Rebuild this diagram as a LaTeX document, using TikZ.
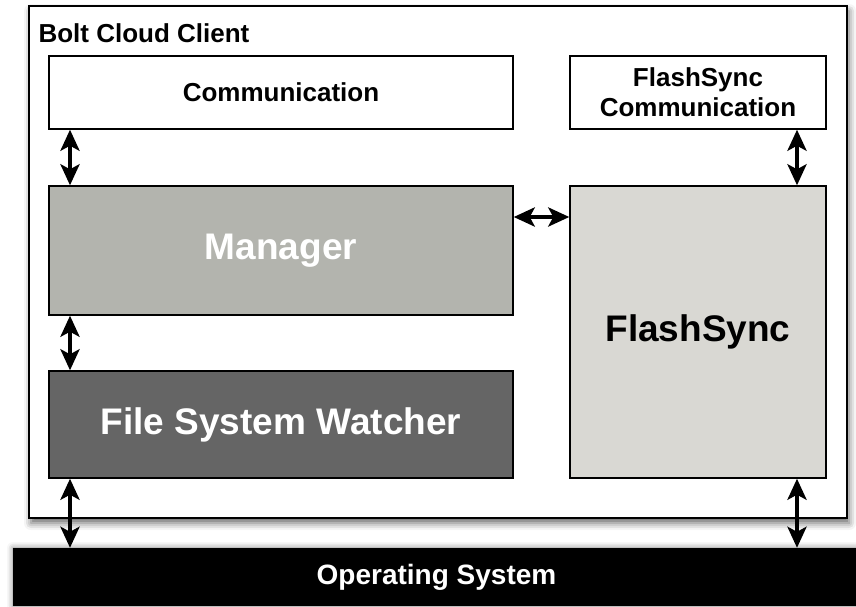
\documentclass[tikz,border=0pt]{standalone}
\usepackage{fontspec}
\setmainfont{Liberation Sans}
\usetikzlibrary{arrows.meta,shadows.blur}
\definecolor{mgrfill}{HTML}{B3B4AE}
\definecolor{fsfill}{HTML}{D9D8D3}
\definecolor{fswfill}{HTML}{656565}
\tikzset{
  box/.style={draw=black, line width=1.4pt, rectangle, inner sep=0pt, align=center},
  small/.style={font=\bfseries\fontsize{26}{30}\selectfont},
  large/.style={font=\bfseries\fontsize{37}{42}\selectfont},
  dbl/.style={draw=black, line width=4pt,
    arrows={Stealth[length=21pt, width=19pt, inset=5pt]-Stealth[length=21pt, width=19pt, inset=5pt]}}
}
\begin{document}
\begin{tikzpicture}[x=1pt,y=-1pt]
\useasboundingbox (0,0) rectangle (856,606);
\clip (0,0) rectangle (856,606);

% client frame with its drop shadow
\node[box, fill=white, minimum width=818pt, minimum height=512pt,
  blur shadow={shadow xshift=2pt, shadow yshift=-5pt, shadow blur radius=7pt, shadow opacity=60}]
  (client) at (438,262) {};
\node[anchor=base west, small] (title) at (35,42) {Bolt Cloud Client};

% operating system bar
\node[rectangle, fill=black, inner sep=0pt, minimum width=847pt, minimum height=58pt,
  blur shadow={shadow xshift=0pt, shadow yshift=0pt, shadow blur radius=6pt, shadow opacity=50},
  text=white, font=\bfseries\fontsize{28}{32}\selectfont] (os) at (436.5,577) {Operating System};

% components
\node[box, fill=white, minimum width=464pt, minimum height=73pt, small] (comm) at (281,92.5) {Communication};
\node[box, fill=white, minimum width=256pt, minimum height=73pt, small] (fscomm) at (698,92.5) {FlashSync\\Communication};
\node[box, fill=mgrfill, minimum width=464pt, minimum height=129pt, large, text=white] (mgr) at (281,250.5) {Manager};
\node[box, fill=fswfill, minimum width=464pt, minimum height=107pt, large, text=white] (fsw) at (281,424.5) {File System Watcher};
\node[box, fill=fsfill, minimum width=256pt, minimum height=292pt, large] (fs) at (698,332) {FlashSync};

% connector columns
\coordinate (lx) at (70,0);
\coordinate (rx) at (797,0);
\coordinate (hy) at (0,217);

\draw[dbl] (lx |- comm.south) -- (lx |- mgr.north);
\draw[dbl] (lx |- mgr.south) -- (lx |- fsw.north);
\draw[dbl] (lx |- fsw.south) -- (lx |- os.north);
\draw[dbl] (rx |- fscomm.south) -- (rx |- fs.north);
\draw[dbl] (rx |- fs.south) -- (rx |- os.north);
\draw[dbl] (mgr.east |- hy) -- (fs.west |- hy);
\end{tikzpicture}
\end{document}
